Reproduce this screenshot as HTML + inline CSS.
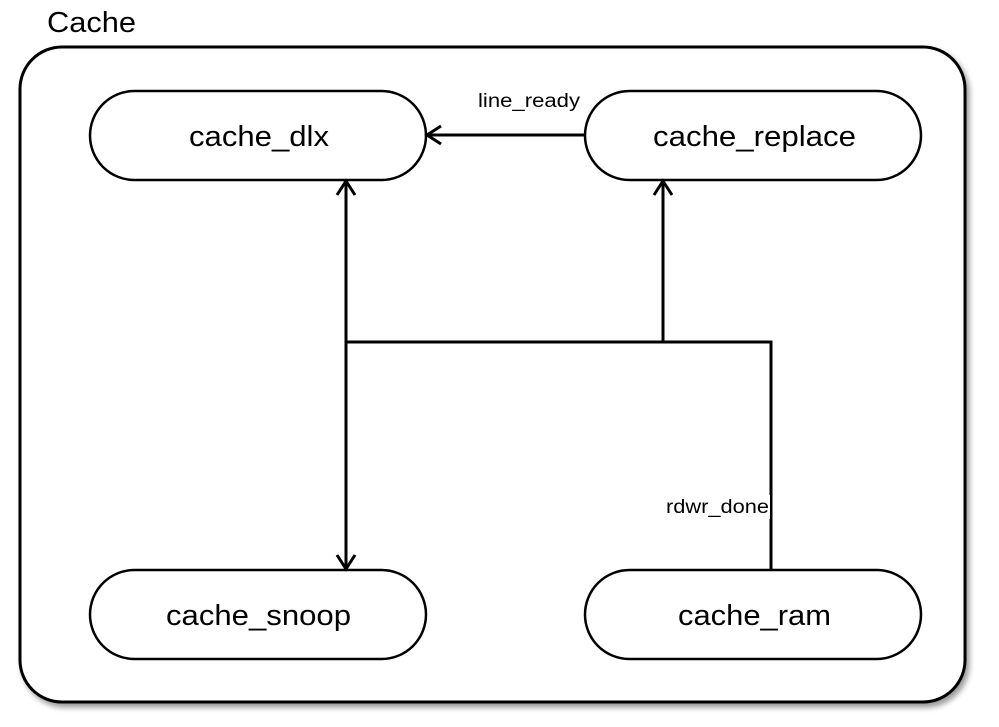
<!DOCTYPE html>
<html><head><meta charset="utf-8"><style>
html,body{margin:0;padding:0;background:#fff;}
svg{display:block;}
text{font-family:"Liberation Sans",Arial,sans-serif;fill:#000;}
</style></head><body>
<svg width="999" height="727" viewBox="0 0 999 727" xmlns="http://www.w3.org/2000/svg">
<defs>
<filter id="sh" x="-5%" y="-5%" width="110%" height="110%">
<feGaussianBlur in="SourceAlpha" stdDeviation="3"/>
<feOffset dx="3" dy="4"/>
<feComponentTransfer><feFuncA type="linear" slope="0.4"/></feComponentTransfer>
<feMerge><feMergeNode/><feMergeNode in="SourceGraphic"/></feMerge>
</filter>
</defs>
<text x="47" y="32" font-size="29" textLength="89" lengthAdjust="spacingAndGlyphs">Cache</text>
<rect x="20" y="47" width="945" height="655" rx="42" ry="42" fill="#fff" stroke="#000" stroke-width="3" filter="url(#sh)"/>
<g fill="#fff" stroke="#000" stroke-width="2.5">
<rect x="90" y="91" width="336" height="89" rx="44.5"/>
<rect x="585" y="91" width="336" height="89" rx="44.5"/>
<rect x="90" y="570" width="336" height="89" rx="44.5"/>
<rect x="585" y="570" width="336" height="89" rx="44.5"/>
</g>
<g font-size="29" lengthAdjust="spacingAndGlyphs">
<text x="189" y="146" textLength="140" lengthAdjust="spacingAndGlyphs">cache_dlx</text>
<text x="653" y="146" textLength="203" lengthAdjust="spacingAndGlyphs">cache_replace</text>
<text x="166" y="625" textLength="185" lengthAdjust="spacingAndGlyphs">cache_snoop</text>
<text x="678" y="625" textLength="153" lengthAdjust="spacingAndGlyphs">cache_ram</text>
</g>
<g fill="none" stroke="#000" stroke-width="3">
<line x1="346" y1="181" x2="346" y2="569"/>
<polyline points="337,195 346,181 355,195"/>
<polyline points="337,555 346,569 355,555"/>
<polyline points="346,342 771,342 771,570"/>
<line x1="663" y1="342" x2="663" y2="181"/>
<polyline points="654,195 663,181 672,195"/>
<line x1="585" y1="135" x2="427" y2="135"/>
<polyline points="441,126 427,135 441,144"/>
</g>
<text x="478" y="107" font-size="19" textLength="102" lengthAdjust="spacingAndGlyphs">line_ready</text>
<rect x="664" y="495" width="106" height="24" fill="#fff"/>
<text x="666" y="513" font-size="19" textLength="103" lengthAdjust="spacingAndGlyphs">rdwr_done</text>
</svg>
</body></html>
